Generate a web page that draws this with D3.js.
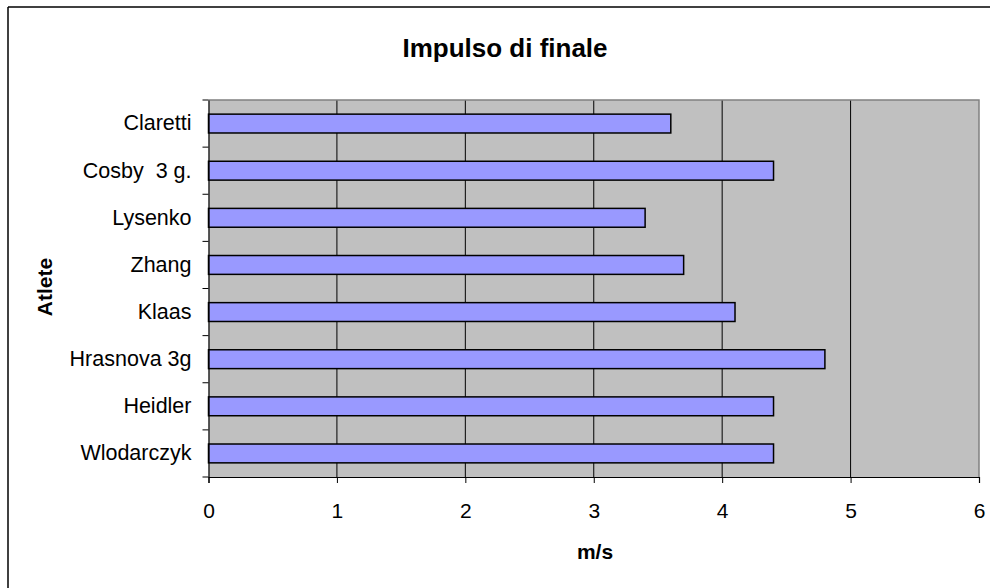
<!DOCTYPE html>
<html><head><meta charset="utf-8">
<script src="https://cdn.jsdelivr.net/npm/d3@7"></script>
<style>body{margin:0;background:#fff}svg{display:block;font-family:"Liberation Sans",Arial,sans-serif}text{white-space:pre}</style>
</head><body>
<svg id="c" width="990" height="588"></svg>
<script>
const categories = ["Claretti","Cosby  3 g.","Lysenko","Zhang","Klaas","Hrasnova 3g","Heidler","Wlodarczyk"];
const values = [3.6, 4.4, 3.4, 3.7, 4.1, 4.8, 4.4, 4.4];
const xTicks = [0,1,2,3,4,5,6];
const title = "Impulso di finale";
const xTitle = "m/s";
const yTitle = "Atlete";

const svg = d3.select("#c");
const L = 208.5, R = 979, T = 100, B = 477;

// outer chart border (left and top only visible)
svg.append("line").attr("x1",8).attr("y1",7).attr("x2",8).attr("y2",588).attr("stroke","#000").attr("stroke-width",1.5);
svg.append("line").attr("x1",8).attr("y1",7).attr("x2",990).attr("y2",7).attr("stroke","#000").attr("stroke-width",1.5);

const x = d3.scaleLinear().domain([0,6]).range([L,R]);
const y = d3.scaleBand().domain(categories).range([T,B]).paddingInner(0.6).paddingOuter(0.3);
const yb = d3.scaleBand().domain(categories).range([T,B]);

svg.append("rect").attr("x",L).attr("y",T).attr("width",R-L).attr("height",B-T).attr("fill","#c0c0c0");

// gridlines
svg.selectAll(".grid").data(xTicks.filter(d=>d>0 && d<6)).enter().append("line")
  .attr("x1",d=>x(d)).attr("x2",d=>x(d)).attr("y1",T).attr("y2",B)
  .attr("stroke","#000").attr("stroke-width",1);

// plot border (top/right gray)
svg.append("path").attr("d",`M${L},${T}H${R}V${B}`).attr("fill","none").attr("stroke","#808080").attr("stroke-width",1.5);

// bars
svg.selectAll(".bar").data(categories).enter().append("rect")
  .attr("x",x(0)).attr("y",d=>y(d)).attr("width",(d,i)=>x(values[i])-x(0)).attr("height",y.bandwidth())
  .attr("fill","#9999ff").attr("stroke","#000").attr("stroke-width",1.5);

// x axis
const xa = svg.append("g").attr("transform",`translate(0,${B})`)
  .call(d3.axisBottom(x).tickValues(xTicks).tickSize(6).tickPadding(20).tickFormat(d3.format("d")));
xa.select(".domain").attr("stroke","#000").attr("stroke-width",1.2);
xa.selectAll(".tick line").attr("stroke","#000");
xa.selectAll("text").attr("font-size",21).attr("fill","#000").attr("font-family","Liberation Sans, Arial, sans-serif");

// y axis
const ya = svg.append("g").attr("transform",`translate(${L},0)`)
  .call(d3.axisLeft(yb).tickSize(0).tickPadding(17));
ya.select(".domain").attr("stroke","#000").attr("stroke-width",1.2);
ya.selectAll("text").attr("font-size",21.5).attr("fill","#000").attr("font-family","Liberation Sans, Arial, sans-serif")
  .style("white-space","pre");
// y ticks at band boundaries
const bounds = categories.map(c=>yb(c)).concat([B]);
svg.selectAll(".yt").data(bounds).enter().append("line")
  .attr("x1",L-6).attr("x2",L).attr("y1",d=>d).attr("y2",d=>d).attr("stroke","#000").attr("stroke-width",1);

// titles
svg.append("text").attr("x",505).attr("y",57).attr("text-anchor","middle")
  .attr("font-size",26).attr("font-weight","bold").text(title);
svg.append("text").attr("x",595).attr("y",559).attr("text-anchor","middle")
  .attr("font-size",21).attr("font-weight","bold").text(xTitle);
svg.append("text").attr("transform","translate(52,287) rotate(-90)").attr("text-anchor","middle")
  .attr("font-size",21).attr("font-weight","bold").text(yTitle);
</script>
</body></html>
